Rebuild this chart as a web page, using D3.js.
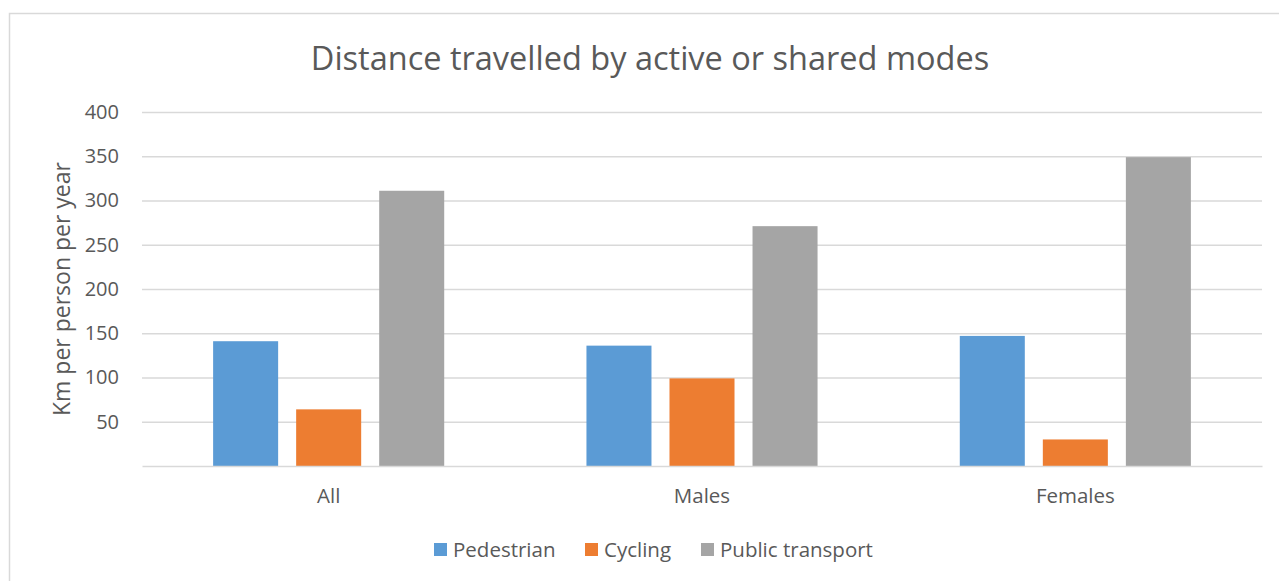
<!DOCTYPE html>
<html lang="en">
<head>
  <meta charset="UTF-8">
  <title>Distance travelled by active or shared modes</title>
  <script src="https://d3js.org/d3.v7.min.js"></script>
  <style>
    body {
      margin: 0;
      background: #ffffff;
      font-family: 'Open Sans', sans-serif;
    }
    svg { display: block; }
    .tick text { fill: #595959; }
  </style>
</head>
<body>
  <svg id="chart" width="1279" height="581"></svg>

  <script>
    const categories = ["All", "Males", "Females"];
    const seriesNames = ["Pedestrian", "Cycling", "Public transport"];
    const pedestrian = [141, 136, 147];
    const cycling = [64, 99, 30];
    const publicTransport = [311, 271, 349];
    const yTicks = [50, 100, 150, 200, 250, 300, 350, 400];
    const colors = ["#5b9bd5", "#ed7d31", "#a5a5a5"];

    const seriesValues = [pedestrian, cycling, publicTransport];

    const svg = d3.select("#chart");
    const textColor = "#595959";
    const gridColor = "#d9d9d9";

    // chart frame
    svg.append("rect")
      .attr("x", 9.5).attr("y", 13.5)
      .attr("width", 1290).attr("height", 600)
      .attr("fill", "#fff")
      .attr("stroke", gridColor)
      .attr("stroke-width", 1.5);

    const plot = { left: 142, right: 1262, top: 112, bottom: 466 };

    const gap = 0.381;
    const x0 = d3.scaleBand()
      .domain(categories)
      .range([plot.left, plot.right])
      .paddingInner(gap)
      .paddingOuter(gap / 2);

    const x1 = d3.scaleBand()
      .domain(seriesNames)
      .range([0, x0.bandwidth()])
      .paddingInner(0.217)
      .paddingOuter(0);

    const y = d3.scaleLinear()
      .domain([0, 400])
      .range([plot.bottom, plot.top]);

    // gridlines + y labels
    const yAxis = svg.append("g")
      .attr("transform", `translate(${plot.left},0)`)
      .call(d3.axisLeft(y)
        .tickValues(yTicks)
        .tickSize(-(plot.right - plot.left))
        .tickPadding(23));
    yAxis.select(".domain").remove();
    yAxis.selectAll(".tick line")
      .attr("stroke", gridColor)
      .attr("stroke-width", 1.5);
    yAxis.selectAll(".tick text")
      .style("font-family", "'Open Sans', sans-serif")
      .style("font-size", "20px");

    // bars
    const groups = svg.append("g")
      .selectAll("g")
      .data(categories)
      .join("g")
      .attr("transform", d => `translate(${x0(d)},0)`);

    groups.selectAll("rect")
      .data((d, i) => seriesNames.map((s, j) => ({ s, j, v: seriesValues[j][i] })))
      .join("rect")
      .attr("x", d => x1(d.s))
      .attr("width", x1.bandwidth())
      .attr("y", d => y(d.v))
      .attr("height", d => y(0) - y(d.v))
      .attr("fill", d => colors[d.j]);

    // baseline + category labels
    const xAxis = svg.append("g")
      .attr("transform", `translate(0,${plot.bottom})`)
      .call(d3.axisBottom(x0).tickSize(0).tickPadding(22));
    xAxis.select(".domain")
      .attr("stroke", gridColor)
      .attr("stroke-width", 1.5);
    xAxis.selectAll(".tick text")
      .style("font-family", "'Open Sans', sans-serif")
      .style("font-size", "20.5px");

    // title
    svg.append("text")
      .attr("x", 650).attr("y", 70)
      .attr("text-anchor", "middle")
      .attr("fill", textColor)
      .style("font-size", "32.5px")
      .text("Distance travelled by active or shared modes");

    // y axis title
    svg.append("text")
      .attr("transform", `translate(70,289) rotate(-90)`)
      .attr("text-anchor", "middle")
      .attr("fill", textColor)
      .style("font-size", "23px")
      .text("Km per person per year");

    // legend
    const legendX = [434, 585, 701];
    const legend = svg.append("g")
      .selectAll("g")
      .data(seriesNames)
      .join("g")
      .attr("transform", (d, i) => `translate(${legendX[i]},543)`);
    legend.append("rect")
      .attr("width", 13).attr("height", 13)
      .attr("fill", (d, i) => colors[i]);
    legend.append("text")
      .attr("x", 19).attr("y", 14)
      .attr("fill", textColor)
      .style("font-size", "20.5px")
      .text(d => d);
  </script>
</body>
</html>
